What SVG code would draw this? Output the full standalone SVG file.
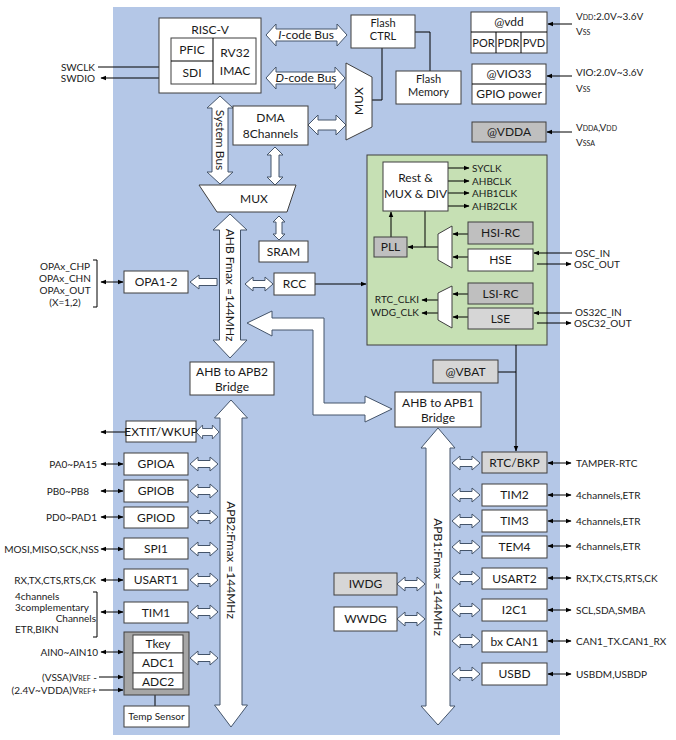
<svg xmlns="http://www.w3.org/2000/svg" xmlns:xlink="http://www.w3.org/1999/xlink" width="676" height="740" viewBox="0 0 676 740">
<style>
text{font-family:Lato,"Liberation Sans",sans-serif;fill:#1a1a1a;font-size:12px;text-anchor:middle}
.s{font-size:10px}
.m{font-size:11px}
.b{font-size:12px}
.l{text-anchor:start}
.e{text-anchor:end}
.box{fill:#fff;stroke:#3f3f3f;stroke-width:1}
.gray{fill:#bfbfbf;stroke:#3f3f3f;stroke-width:1}
.lgray{fill:#d6d6d6;stroke:#3f3f3f;stroke-width:1}
.fat{fill:#fff;stroke:#44546a;stroke-width:1}
.ln{fill:none;stroke:#000;stroke-width:1}
.sub{font-size:7px}
</style>
<defs>
<marker id="ah" viewBox="0 0 10 10" refX="9" refY="5" markerWidth="6" markerHeight="6" orient="auto-start-reverse"><path d="M0,1 L10,5 L0,9 Z" fill="#000"/></marker>
<path id="d28" d="M0,0 L8,-7 L8,-3.5 L20,-3.5 L20,-7 L28,0 L20,7 L20,3.5 L8,3.5 L8,7 Z"/>
</defs>
<rect x="113" y="7" width="447" height="728" fill="#b4c7e7"/>
<rect x="367" y="155" width="180" height="190" fill="#c6e0b4" stroke="#3f3f3f"/>

<g id="connectors">
<path class="ln" d="M98,67 H170" marker-end="url(#ah)"/>
<path class="ln" d="M101,78 H170" marker-start="url(#ah)" marker-end="url(#ah)"/>
<path class="ln" d="M415,32 H430 V71"/>
<path class="ln" d="M382,48 V100 H372"/>
<path class="ln" d="M315,284 H366" marker-end="url(#ah)"/>
<path class="ln" d="M516,345 V451" marker-end="url(#ah)"/>
<path class="ln" d="M498,372 H516"/>
<path class="ln" d="M155,695 V706"/>
<path class="ln" d="M391,237 V212" marker-end="url(#ah)"/>
<path class="ln" d="M425,211 V247"/>
<path class="ln" d="M438,247 H408" marker-end="url(#ah)"/>
<path class="ln" d="M448,168 H469" marker-end="url(#ah)"/>
<path class="ln" d="M448,181 H469" marker-end="url(#ah)"/>
<path class="ln" d="M448,193 H469" marker-end="url(#ah)"/>
<path class="ln" d="M448,206 H469" marker-end="url(#ah)"/>
<path class="ln" d="M468,234 H453" marker-end="url(#ah)"/>
<path class="ln" d="M468,257 H453" marker-end="url(#ah)"/>
<path class="ln" d="M468,294 H453" marker-end="url(#ah)"/>
<path class="ln" d="M468,317 H453" marker-end="url(#ah)"/>
<path class="ln" d="M438,300 H422" marker-end="url(#ah)"/>
<path class="ln" d="M438,313 H422" marker-end="url(#ah)"/>
<path class="ln" d="M572,253 H534" marker-end="url(#ah)"/>
<path class="ln" d="M537,264 H571" marker-end="url(#ah)"/>
<path class="ln" d="M572,313 H534" marker-end="url(#ah)"/>
<path class="ln" d="M537,323 H571" marker-end="url(#ah)"/>
<path class="ln" d="M572,24 H548" marker-end="url(#ah)"/>
<path class="ln" d="M572,76 H547" marker-end="url(#ah)"/>
<path class="ln" d="M572,132 H547" marker-end="url(#ah)"/>
<path class="ln" d="M93,260 H97 V307 H93"/>
<path class="ln" d="M93,592 H97 V637 H93"/>
<path class="ln" d="M101,282 H123" marker-start="url(#ah)" marker-end="url(#ah)"/>
<path class="ln" d="M126,432 H101" marker-end="url(#ah)"/>
<path class="ln" d="M101,464 H123" marker-start="url(#ah)" marker-end="url(#ah)"/>
<path class="ln" d="M101,491 H123" marker-start="url(#ah)" marker-end="url(#ah)"/>
<path class="ln" d="M101,517 H123" marker-start="url(#ah)" marker-end="url(#ah)"/>
<path class="ln" d="M101,549 H123" marker-start="url(#ah)" marker-end="url(#ah)"/>
<path class="ln" d="M101,580 H123" marker-start="url(#ah)" marker-end="url(#ah)"/>
<path class="ln" d="M101,612 H123" marker-start="url(#ah)" marker-end="url(#ah)"/>
<path class="ln" d="M101,652 H123" marker-start="url(#ah)" marker-end="url(#ah)"/>
<path class="ln" d="M99,677 H123" marker-end="url(#ah)"/>
<path class="ln" d="M99,690 H123" marker-end="url(#ah)"/>
<path class="ln" d="M548,463 H571" marker-start="url(#ah)" marker-end="url(#ah)"/>
<path class="ln" d="M548,495 H571" marker-start="url(#ah)" marker-end="url(#ah)"/>
<path class="ln" d="M548,521 H571" marker-start="url(#ah)" marker-end="url(#ah)"/>
<path class="ln" d="M548,546 H571" marker-start="url(#ah)" marker-end="url(#ah)"/>
<path class="ln" d="M548,578 H571" marker-start="url(#ah)" marker-end="url(#ah)"/>
<path class="ln" d="M548,610 H571" marker-start="url(#ah)" marker-end="url(#ah)"/>
<path class="ln" d="M548,641 H571" marker-start="url(#ah)" marker-end="url(#ah)"/>
<path class="ln" d="M548,674 H571" marker-start="url(#ah)" marker-end="url(#ah)"/>
<!-- fat bus arrows -->
<path class="fat" d="M266,35 L276,24 L276,29 L337,29 L337,24 L347,35 L337,46 L337,41 L276,41 L276,46 Z"/>
<path class="fat" d="M266,78 L276,67 L276,72 L335,72 L335,67 L345,78 L335,89 L335,84 L276,84 L276,89 Z"/>
<path class="fat" d="M308,125 L318,115 L318,120 L336,120 L336,115 L346,125 L336,135 L336,130 L318,130 L318,135 Z"/>
<path class="fat" d="M220,96 L233,108 L228,108 L228,172 L233,172 L220,184 L207,172 L212,172 L212,108 L207,108 Z"/>
<path class="fat" d="M275,147 L283,155 L279,155 L279,177 L283,177 L275,185 L267,177 L271,177 L271,155 L267,155 Z"/>
<path class="fat" d="M279,216 L285,222 L282,222 L282,234 L285,234 L279,240 L273,234 L276,234 L276,222 L273,222 Z"/>
<path class="fat" d="M230,214 L247,230 L240.5,230 L240.5,340 L247,340 L230,358 L213,340 L219.5,340 L219.5,230 L213,230 Z"/>
<path class="fat" d="M190,282 L199,275 L199,278.5 L217,278.5 L217,285.5 L199,285.5 L199,289 Z"/>
<path class="fat" d="M247,323 L272,311 L272,318 L324,318 L324,403 L365,403 L365,396 L392,409 L365,422 L365,415 L313,415 L313,330 L272,330 L272,336 Z"/>
<path class="fat" d="M231,400 L247.5,418 L242,418 L242,705 L247.5,705 L231,727 L214.5,705 L220,705 L220,418 L214.5,418 Z"/>
<path class="fat" d="M438,428 L455,448 L450,448 L450,706 L455,706 L438,725 L421,706 L426,706 L426,448 L421,448 Z"/>
<use href="#d28" class="fat" x="245" y="284"/>
<use href="#d28" class="fat" transform="translate(196,432) scale(0.82,1)"/>
<use href="#d28" class="fat" x="190" y="464"/>
<use href="#d28" class="fat" x="190" y="491"/>
<use href="#d28" class="fat" x="190" y="517"/>
<use href="#d28" class="fat" x="190" y="549"/>
<use href="#d28" class="fat" x="190" y="580"/>
<use href="#d28" class="fat" x="190" y="612"/>
<use href="#d28" class="fat" x="190" y="658"/>
<use href="#d28" class="fat" x="397" y="584"/>
<use href="#d28" class="fat" x="397" y="619"/>
<use href="#d28" class="fat" x="452" y="463"/>
<use href="#d28" class="fat" x="452" y="495"/>
<use href="#d28" class="fat" x="452" y="521"/>
<use href="#d28" class="fat" x="452" y="547"/>
<use href="#d28" class="fat" x="452" y="578"/>
<use href="#d28" class="fat" x="452" y="610"/>
<use href="#d28" class="fat" x="452" y="641"/>
<use href="#d28" class="fat" x="452" y="674"/>
<text class="b" x="306" y="39"><tspan font-style="italic">I</tspan>-code Bus</text>
<text class="b" x="306" y="82"><tspan font-style="italic">D</tspan>-code Bus</text>
<text class="b" transform="translate(220,140) rotate(90)" dy="4">System Bus</text>
<text class="b" transform="translate(230,285) rotate(90)" dy="4">AHB  Fmax =144MHz</text>
<text class="b" transform="translate(231,560) rotate(90)" dy="4">APB2:Fmax =144MHz</text>
<text class="b" transform="translate(438,577) rotate(90)" dy="4">APB1:Fmax =144MHz</text>
</g>

<g id="riscv">
<rect class="box" x="159" y="18" width="102" height="75"/>
<text x="210" y="34">RISC-V</text>
<rect class="box" x="171" y="38" width="85" height="46"/>
<path class="ln" d="M213,38 V84 M171,61 H213" stroke="#3f3f3f"/>
<text x="192" y="54">PFIC</text>
<text x="192" y="77">SDI</text>
<text x="235" y="57">RV32</text>
<text x="235" y="75">IMAC</text>
</g>
<g id="swd">
<text class="s e" x="95" y="71">SWCLK</text>
<text class="s e" x="95" y="82">SWDIO</text>
</g>
<g id="flashctrl"><rect class="box" x="351" y="15" width="64" height="33"/><text class="m" x="383" y="27">Flash</text><text class="m" x="383" y="40">CTRL</text></g>
<g id="flashmem"><rect class="box" x="396" y="71" width="65" height="33"/><text class="m" x="428.5" y="83">Flash</text><text class="m" x="428.5" y="96">Memory</text></g>
<g id="mux1"><polygon class="box" points="346,63 372,77 372,127 346,140"/><text transform="translate(359,101) rotate(-90)" dy="4">MUX</text></g>
<g id="dma"><rect class="box" x="233" y="106" width="75" height="39"/><text x="270.5" y="122">DMA</text><text x="270.5" y="138">8Channels</text></g>
<g id="mux2"><polygon class="box" points="199,185 296,185 287,212 217,212"/><text x="254" y="203">MUX</text></g>
<g id="sram"><rect class="box" x="259" y="241" width="49" height="21"/><text x="283.5" y="256">SRAM</text></g>
<g id="opa"><rect class="box" x="124" y="271" width="64" height="22"/><text x="156" y="286">OPA1-2</text></g>
<g id="opalabels">
<text class="s" x="65" y="269.5">OPAx_CHP</text>
<text class="s" x="65" y="281.5">OPAx_CHN</text>
<text class="s" x="65" y="293.5">OPAx_OUT</text>
<text class="s" x="65" y="305.5">(X=1,2)</text>
</g>
<g id="rcc"><rect class="box" x="274" y="273" width="41" height="22"/><text x="294.5" y="288">RCC</text></g>

<g id="clock">
<g id="rest"><rect class="box" x="383" y="162" width="65" height="49"/><text x="415.5" y="182">Rest &amp;</text><text x="415.5" y="198">MUX &amp; DIV</text></g>
<text class="s l" x="472" y="171.5">SYCLK</text>
<text class="s l" x="472" y="184.5">AHBCLK</text>
<text class="s l" x="472" y="196.5">AHB1CLK</text>
<text class="s l" x="472" y="209.5">AHB2CLK</text>
<g id="pll"><rect class="gray" x="374" y="237" width="33" height="20"/><text x="390.5" y="251">PLL</text></g>
<g id="hmux"><polygon class="box" points="438,234 452,226 452,268 438,260"/></g>
<g id="lmux"><polygon class="box" points="438,293 452,286 452,328 438,320"/></g>
<g id="hsirc"><rect class="gray" x="468" y="222" width="65" height="22"/><text x="500.5" y="237">HSI-RC</text></g>
<g id="hse"><rect class="box" x="468" y="249" width="65" height="22"/><text x="500.5" y="264">HSE</text></g>
<g id="lsirc"><rect class="gray" x="468" y="283" width="65" height="21"/><text x="500.5" y="297.5">LSI-RC</text></g>
<g id="lse"><rect class="lgray" x="468" y="308" width="65" height="21"/><text x="500.5" y="322.5">LSE</text></g>
<text class="s e" x="419" y="303">RTC_CLKI</text>
<text class="s e" x="419" y="316">WDG_CLK</text>
</g>
<g id="osclabels">
<text class="s l" x="575" y="257">OSC_IN</text>
<text class="s l" x="574" y="268">OSC_OUT</text>
<text class="s l" x="575" y="316">OS32C_IN</text>
<text class="s l" x="574" y="327">OSC32_OUT</text>
</g>
<g id="vbat"><rect class="lgray" x="433" y="360" width="65" height="23"/><text x="465.5" y="375.5">@VBAT</text></g>
<g id="apb2bridge"><rect class="box" x="190" y="362" width="84" height="33"/><text x="232" y="376">AHB to APB2</text><text x="232" y="391">Bridge</text></g>
<g id="apb1bridge"><rect class="box" x="395" y="392" width="86" height="35"/><text x="438" y="407">AHB to APB1</text><text x="438" y="422">Bridge</text></g>

<g id="extit"><rect class="box" x="126" y="421" width="70" height="21"/><text x="161" y="436">EXTIT/WKUP</text></g>
<g id="gpioa"><rect class="box" x="124" y="453" width="64" height="22"/><text x="156" y="468">GPIOA</text></g>
<g id="gpiob"><rect class="box" x="124" y="480" width="64" height="22"/><text x="156" y="495">GPIOB</text></g>
<g id="gpiod"><rect class="box" x="124" y="507" width="64" height="21"/><text x="156" y="521.5">GPIOD</text></g>
<g id="spi1"><rect class="box" x="124" y="538" width="64" height="21"/><text x="156" y="552.5">SPI1</text></g>
<g id="usart1"><rect class="box" x="124" y="569" width="64" height="21"/><text x="156" y="583.5">USART1</text></g>
<g id="tim1"><rect class="box" x="124" y="602" width="64" height="21"/><text x="156" y="616.5">TIM1</text></g>
<g id="adc">
<rect x="124" y="632" width="65" height="63" fill="#a6a6a6" stroke="#3f3f3f"/>
<rect class="box" x="133" y="635" width="50" height="18"/><text x="158" y="648">Tkey</text>
<rect class="box" x="133" y="653" width="50" height="20"/><text x="158" y="667">ADC1</text>
<rect class="box" x="133" y="673" width="50" height="16"/><text x="158" y="685.5">ADC2</text>
</g>
<g id="tempsensor"><rect class="box" x="124" y="706" width="65" height="21"/><text class="s" x="156.5" y="720">Temp Sensor</text></g>

<g id="leftlabels">
<text class="s e" x="97" y="467.5">PA0~PA15</text>
<text class="s e" x="89" y="494.5">PB0~PB8</text>
<text class="s e" x="97" y="521">PD0~PAD1</text>
<text class="s e" x="99" y="552.5">MOSI,MISO,SCK,NSS</text>
<text class="s e" x="96" y="583.5">RX,TX,CTS,RTS,CK</text>
<text class="s l" x="15" y="599.5">4channels</text>
<text class="s l" x="15" y="610.5">3complementary</text>
<text class="s e" x="96" y="621.5">Channels</text>
<text class="s l" x="15" y="632.5">ETR,BIKN</text>
<text class="s e" x="98" y="655.5">AIN0~AIN10</text>
<text class="s e" x="97" y="680.5">(VSSA)V<tspan class="sub">REF</tspan> -</text>
<text class="s e" x="97" y="693.5">(2.4V~VDDA)V<tspan class="sub">REF</tspan>+</text>
</g>

<g id="iwdg"><rect class="lgray" x="334" y="573" width="63" height="22"/><text x="365.5" y="588">IWDG</text></g>
<g id="wwdg"><rect class="box" x="334" y="607" width="63" height="24"/><text x="365.5" y="623">WWDG</text></g>

<g id="rtcbkp"><rect class="lgray" x="482" y="452" width="65" height="21"/><text x="514.5" y="466.5">RTC/BKP</text></g>
<g id="tim2"><rect class="box" x="482" y="484" width="65" height="22"/><text x="514.5" y="499">TIM2</text></g>
<g id="tim3"><rect class="box" x="482" y="510" width="65" height="22"/><text x="514.5" y="525">TIM3</text></g>
<g id="tem4"><rect class="box" x="482" y="536" width="65" height="22"/><text x="514.5" y="551">TEM4</text></g>
<g id="usart2"><rect class="box" x="482" y="568" width="65" height="21"/><text x="514.5" y="582.5">USART2</text></g>
<g id="i2c1"><rect class="box" x="482" y="599" width="65" height="22"/><text x="514.5" y="614">I2C1</text></g>
<g id="bxcan1"><rect class="box" x="482" y="631" width="65" height="21"/><text x="514.5" y="645.5">bx CAN1</text></g>
<g id="usbd"><rect class="box" x="482" y="663" width="65" height="22"/><text x="514.5" y="678">USBD</text></g>

<g id="rightlabels">
<text class="s l" x="576" y="466.5">TAMPER-RTC</text>
<text class="s l" x="576" y="498.5">4channels,ETR</text>
<text class="s l" x="576" y="524.5">4channels,ETR</text>
<text class="s l" x="576" y="549.5">4channels,ETR</text>
<text class="s l" x="576" y="581.5">RX,TX,CTS,RTS,CK</text>
<text class="s l" x="576" y="613.5">SCL,SDA,SMBA</text>
<text class="s l" x="576" y="644.5">CAN1_TX.CAN1_RX</text>
<text class="s l" x="576" y="677.5">USBDM,USBDP</text>
</g>

<g id="vdd">
<rect class="box" x="471" y="12" width="76" height="41"/>
<path class="ln" d="M471,32 H547 M496,32 V53 M521,32 V53" stroke="#3f3f3f"/>
<text x="509" y="26">@vdd</text>
<text class="m" x="483.5" y="47">POR</text>
<text class="m" x="508.5" y="47">PDR</text>
<text class="m" x="534" y="47">PVD</text>
</g>
<g id="vio33">
<rect class="box" x="472" y="64" width="74" height="40"/>
<path class="ln" d="M472,84 H546" stroke="#3f3f3f"/>
<text x="509" y="78">@VIO33</text>
<text x="509" y="98">GPIO power</text>
</g>
<g id="vdda"><rect class="gray" x="472" y="122" width="74" height="20"/><text x="509" y="136">@VDDA</text></g>
<g id="powerlabels">
<text class="s l" x="576" y="20">V<tspan class="sub">DD</tspan>:2.0V~3.6V</text>
<text class="s l" x="576" y="35">V<tspan class="sub">SS</tspan></text>
<text class="s l" x="576" y="76">VIO:2.0V~3.6V</text>
<text class="s l" x="576" y="92">V<tspan class="sub">SS</tspan></text>
<text class="s l" x="576" y="131">V<tspan class="sub">DDA</tspan>,V<tspan class="sub">DD</tspan></text>
<text class="s l" x="576" y="146">V<tspan class="sub">SSA</tspan></text>
</g>
</svg>
